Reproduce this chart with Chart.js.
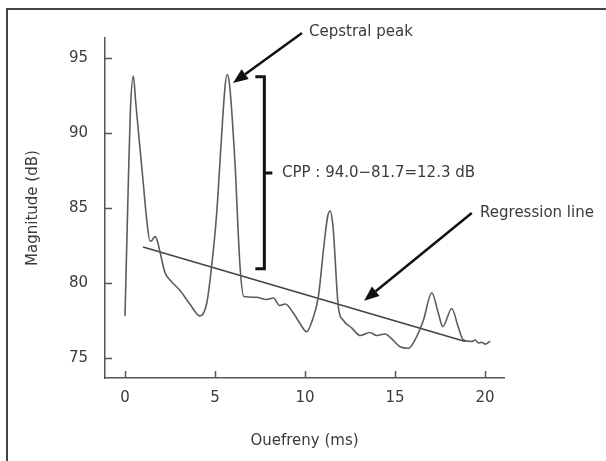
<!DOCTYPE html>
<html>
<head>
<meta charset="utf-8">
<script src="https://cdn.jsdelivr.net/npm/chart.js@4/dist/chart.umd.min.js"></script>
<style>
  html, body { margin: 0; padding: 0; background: #fff; }
  #wrap { width: 606px; height: 461px; }
</style>
</head>
<body>
<div id="wrap"><canvas id="cepstrum"></canvas></div>
<script>
// cepstrum curve (quefrency ms, magnitude dB)
const quefrency = [0.0, 0.19, 0.3, 0.46, 0.6, 0.8, 1.02, 1.2, 1.39, 1.5, 1.67, 1.8, 1.94, 2.22, 2.5, 3.06, 3.6, 4.17,
  4.54, 4.81, 5.09, 5.35, 5.55, 5.67, 5.8, 6.1, 6.39, 6.6, 7.3, 7.87, 8.24, 8.6, 8.9, 9.35, 9.72, 10.09, 10.4, 10.74,
  11.05, 11.25, 11.39, 11.55, 11.85, 12.13, 12.6, 13.06, 13.6, 13.98, 14.44, 14.72, 15.28, 15.74, 16.1, 16.57, 17.04,
  17.4, 17.65, 18.15, 18.5, 18.8, 19.26, 19.45, 19.63, 19.8, 20.0, 20.28];
const magnitude = [77.8, 86.9, 91.5, 93.8, 92.0, 89.4, 86.6, 84.3, 82.8, 82.85, 83.1, 82.8, 82.1, 80.7, 80.2, 79.5, 78.6, 77.8,
  78.65, 81.1, 84.6, 89.5, 93.0, 93.9, 93.3, 88.2, 81.1, 79.1, 79.05, 78.9, 79.0, 78.5, 78.6, 78.0, 77.3, 76.75, 77.5, 79.1,
  82.5, 84.4, 84.8, 83.8, 78.4, 77.5, 77.0, 76.5, 76.7, 76.5, 76.6, 76.4, 75.75, 75.65, 76.2, 77.5, 79.35,
  78.0, 77.1, 78.3, 77.1, 76.2, 76.1, 76.2, 76.0, 76.05, 75.93, 76.13];
const regressionX = [1.0, 18.9];
const regressionY = [82.4, 76.1];
const xTicks = [0, 5, 10, 15, 20];
const yTicks = [75, 80, 85, 90, 95];

const FONT = 'DejaVu Sans';
const TEXT = '#3a3a3a';

// frame, inward tick marks and annotations
const extras = {
  id: 'extras',
  beforeDraw(chart) {
    const ctx = chart.ctx;
    ctx.save();
    ctx.strokeStyle = '#444';
    ctx.lineWidth = 2;
    ctx.beginPath();
    ctx.moveTo(7, 461);
    ctx.lineTo(7, 9);
    ctx.lineTo(606, 9);
    ctx.stroke();
    ctx.restore();
  },
  afterDraw(chart) {
    const {ctx, scales: {x, y}, chartArea: a} = chart;
    ctx.save();
    ctx.strokeStyle = '#555';
    ctx.lineWidth = 1.5;
    xTicks.forEach(v => {
      const px = Math.round(x.getPixelForValue(v)) + 0.5;
      ctx.beginPath(); ctx.moveTo(px, a.bottom); ctx.lineTo(px, a.bottom - 7); ctx.stroke();
    });
    yTicks.forEach(v => {
      const py = Math.round(y.getPixelForValue(v)) + 0.5;
      ctx.beginPath(); ctx.moveTo(a.left, py); ctx.lineTo(a.left + 7, py); ctx.stroke();
    });

    const P = (vx, vy) => [x.getPixelForValue(vx), y.getPixelForValue(vy)];
    const arrow = (from, to) => {
      const [x0, y0] = P(...from), [x1, y1] = P(...to);
      const ang = Math.atan2(y1 - y0, x1 - x0);
      const len = 15, w = 6;
      const bx = x1 - len * Math.cos(ang), by = y1 - len * Math.sin(ang);
      ctx.strokeStyle = '#111';
      ctx.fillStyle = '#111';
      ctx.lineWidth = 2.5;
      ctx.beginPath(); ctx.moveTo(x0, y0); ctx.lineTo(bx, by); ctx.stroke();
      ctx.beginPath();
      ctx.moveTo(x1, y1);
      ctx.lineTo(bx + w * Math.sin(ang), by - w * Math.cos(ang));
      ctx.lineTo(bx - w * Math.sin(ang), by + w * Math.cos(ang));
      ctx.closePath(); ctx.fill();
    };
    arrow([9.83, 96.67], [6.0, 93.33]);
    arrow([19.26, 84.67], [13.28, 78.82]);

    // bracket for CPP
    const [bx, bTop] = P(7.74, 93.75);
    const bBot = y.getPixelForValue(80.95);
    const bMid = y.getPixelForValue(87.33);
    ctx.strokeStyle = '#111';
    ctx.lineWidth = 3;
    ctx.beginPath();
    ctx.moveTo(bx - 9, bTop); ctx.lineTo(bx, bTop); ctx.lineTo(bx, bBot); ctx.lineTo(bx - 9, bBot);
    ctx.moveTo(bx, bMid); ctx.lineTo(bx + 8, bMid);
    ctx.stroke();

    ctx.fillStyle = TEXT;
    ctx.font = '15px "' + FONT + '"';
    ctx.textAlign = 'left';
    ctx.textBaseline = 'middle';
    ctx.fillText('Cepstral peak', ...P(10.22, 96.73));
    ctx.fillText('CPP : 94.0\u221281.7=12.3 dB', ...P(8.72, 87.33));
    ctx.fillText('Regression line', ...P(19.72, 84.67));
    ctx.restore();
  }
};

new Chart(document.getElementById('cepstrum'), {
  type: 'scatter',
  data: {
    datasets: [{
      label: 'Cepstrum',
      data: quefrency.map((q, i) => ({x: q, y: magnitude[i]})),
      showLine: true,
      borderColor: '#5c5c5c',
      borderWidth: 1.6,
      pointRadius: 0,
      cubicInterpolationMode: 'monotone'
    }, {
      label: 'Regression line',
      data: regressionX.map((q, i) => ({x: q, y: regressionY[i]})),
      showLine: true,
      borderColor: '#444',
      borderWidth: 1.6,
      pointRadius: 0
    }]
  },
  options: {
    responsive: true,
    maintainAspectRatio: false,
    animation: false,
    layout: {padding: {left: 0, right: 102, top: 38, bottom: 0}},
    plugins: {legend: {display: false}, tooltip: {enabled: false}},
    scales: {
      x: {
        type: 'linear',
        min: -1.11,
        max: 21.05,
        afterBuildTicks: s => { s.ticks = xTicks.map(v => ({value: v})); },
        afterFit: s => { s.height = 83; },
        grid: {display: false, drawTicks: false},
        border: {display: true, color: '#555', width: 1.5},
        ticks: {color: TEXT, font: {family: FONT, size: 15}, padding: 11, maxRotation: 0},
        title: {display: true, text: 'Ouefreny (ms)', color: TEXT, font: {family: FONT, size: 15}, padding: {top: 4, bottom: 11}}
      },
      y: {
        type: 'linear',
        min: 73.67,
        max: 96.33,
        afterBuildTicks: s => { s.ticks = yTicks.map(v => ({value: v})); },
        afterFit: s => { s.width = 105; },
        grid: {display: false, drawTicks: false},
        border: {display: true, color: '#555', width: 1.5},
        ticks: {color: TEXT, font: {family: FONT, size: 15}, padding: 17},
        title: {display: true, text: 'Magnitude (dB)', color: TEXT, font: {family: FONT, size: 15}, padding: {top: 24}}
      }
    }
  },
  plugins: [extras]
});
</script>
</body>
</html>
